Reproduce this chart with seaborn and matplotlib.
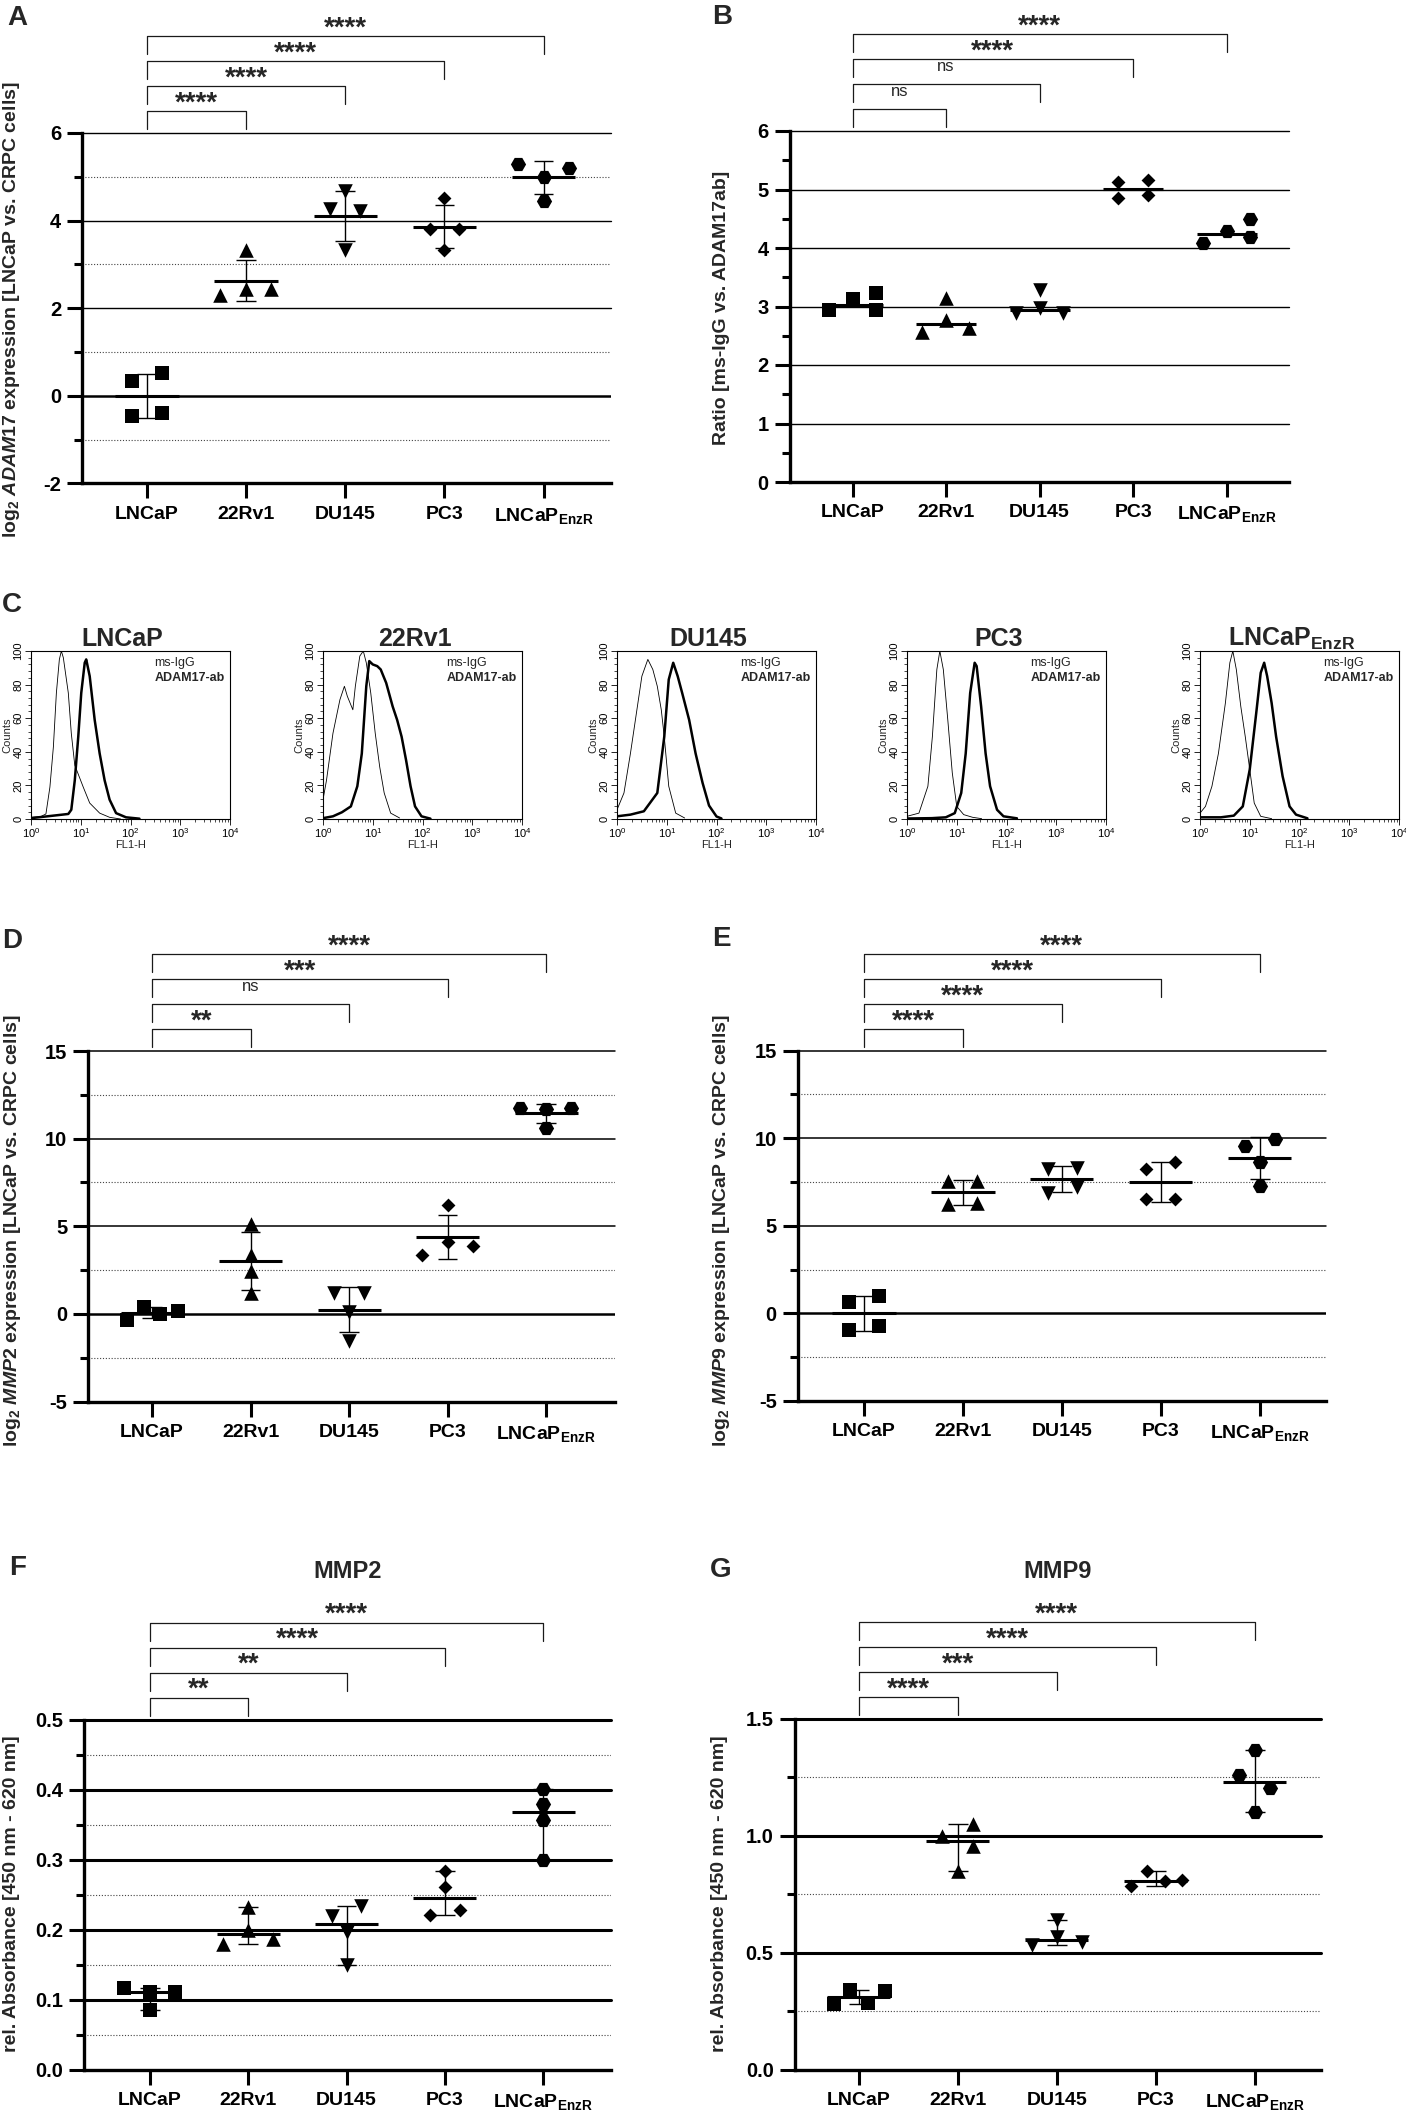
import numpy as np
import pandas as pd
import matplotlib
matplotlib.use("Agg")
import matplotlib.pyplot as plt
import matplotlib.transforms as mtransforms
from matplotlib import font_manager as fm
from matplotlib.ticker import MultipleLocator, LogLocator, NullFormatter
import seaborn as sns

sns.set_theme(style="ticks")
available = {f.name for f in fm.fontManager.ttflist}
MAIN = "Liberation Sans" if "Liberation Sans" in available else "DejaVu Sans"
NARROW = "Liberation Sans Narrow" if "Liberation Sans Narrow" in available else MAIN
plt.rcParams["font.family"] = [MAIN, "DejaVu Sans"]
plt.rcParams["mathtext.fontset"] = "custom"
plt.rcParams["mathtext.it"] = f"{MAIN}:italic:bold"
plt.rcParams["mathtext.rm"] = f"{MAIN}:bold"
plt.rcParams["mathtext.bf"] = f"{MAIN}:bold"
plt.rcParams["axes.edgecolor"] = "black"
plt.rcParams["xtick.color"] = "black"
plt.rcParams["ytick.color"] = "black"

# ---------------- data ----------------
groups = ["LNCaP", "22Rv1", "DU145", "PC3", "LNCaP_EnzR"]
tick_labels = ["LNCaP", "22Rv1", "DU145", "PC3", r"LNCaP$_{\mathdefault{EnzR}}$"]

# A: log2 ADAM17 expression
a_vals = [[0.33, 0.52, -0.47, -0.40],
          [3.32, 2.45, 2.45, 2.30],
          [4.67, 4.26, 4.21, 3.32],
          [4.52, 3.80, 3.80, 3.32],
          [5.29, 5.21, 5.00, 4.44]]
a_sig = ["****", "****", "****", "****"]

# B: ratio ms-IgG vs ADAM17ab
b_vals = [[2.94, 3.12, 3.23, 2.94],
          [3.14, 2.77, 2.64, 2.57],
          [3.28, 2.98, 2.89, 2.89],
          [5.13, 5.17, 4.86, 4.90],
          [4.09, 4.29, 4.49, 4.19]]
b_sig = ["ns", "ns", "****", "****"]

# D: log2 MMP2 expression
d_vals = [[-0.33, 0.40, 0.02, 0.15],
          [5.14, 3.34, 2.46, 1.17],
          [1.20, 1.20, 0.10, -1.55],
          [6.19, 4.12, 3.87, 3.38],
          [11.75, 11.68, 11.75, 10.63]]
d_sig = ["**", "ns", "***", "****"]

# E: log2 MMP9 expression
e_vals = [[0.67, 1.01, -0.96, -0.70],
          [7.54, 7.54, 6.23, 6.31],
          [8.27, 8.31, 6.89, 7.19],
          [8.27, 8.66, 6.52, 6.52],
          [9.58, 9.98, 8.66, 7.29]]
e_sig = ["****", "****", "****", "****"]

# F: MMP2 absorbance
f_vals = [[0.116, 0.111, 0.111, 0.085],
          [0.232, 0.200, 0.180, 0.187],
          [0.220, 0.234, 0.196, 0.150],
          [0.283, 0.261, 0.221, 0.228],
          [0.401, 0.379, 0.356, 0.300]]
f_sig = ["**", "**", "****", "****"]

# G: MMP9 absorbance
g_vals = [[0.281, 0.341, 0.286, 0.335],
          [0.998, 1.052, 0.957, 0.848],
          [0.640, 0.567, 0.534, 0.545],
          [0.784, 0.848, 0.806, 0.812],
          [1.368, 1.259, 1.205, 1.101]]
g_sig = ["****", "***", "****", "****"]

# C: flow cytometry histograms (log10 FL1-H, counts)
lncap_igg_logfl = [0.0, 0.2, 0.3, 0.38, 0.45, 0.51, 0.57, 0.61, 0.65, 0.75, 0.81, 0.88, 1.05, 1.18, 1.38, 1.58, 1.8]
lncap_igg_counts = [1, 1.5, 3, 19, 43, 75, 95, 100, 96, 75, 51, 32, 19, 9.5, 3.5, 1, 0]
lncap_adam_logfl = [0.0, 0.3, 0.6, 0.75, 0.81, 0.88, 0.95, 1.01, 1.08, 1.11, 1.18, 1.28, 1.38, 1.48, 1.58, 1.71, 1.91, 2.18]
lncap_adam_counts = [0.5, 1.5, 2.5, 3, 5.5, 23, 49, 75, 93, 95, 85, 59, 39, 23, 11.5, 3.5, 1, 0.2]

rv1_igg_logfl = [0.0, 0.07, 0.2, 0.34, 0.43, 0.49, 0.6, 0.65, 0.74, 0.81, 0.87, 0.96, 1.05, 1.14, 1.23, 1.36, 1.54]
rv1_igg_counts = [11.5, 23, 51, 71, 79, 73, 65, 79, 97, 100, 93, 75, 51, 31, 15.5, 3.5, 0.6]
rv1_adam_logfl = [0.0, 0.2, 0.38, 0.56, 0.69, 0.78, 0.87, 0.93, 1.0, 1.09, 1.16, 1.27, 1.4, 1.49, 1.58, 1.67, 1.76, 1.85, 1.98, 2.16]
rv1_adam_counts = [0.5, 1.6, 4, 7.5, 19.5, 39, 79, 94, 92, 91, 89, 81, 67, 59, 49, 35, 19.5, 7.5, 1.6, 0.2]

du_igg_logfl = [0.0, 0.14, 0.27, 0.41, 0.5, 0.62, 0.72, 0.81, 0.89, 0.95, 1.04, 1.18, 1.36]
du_igg_counts = [5.5, 15.5, 39, 67, 85, 95, 89, 79, 65, 49, 19.5, 3.5, 0.6]
du_adam_logfl = [0.0, 0.27, 0.54, 0.81, 0.95, 1.04, 1.13, 1.22, 1.31, 1.45, 1.58, 1.72, 1.85, 2.0, 2.1]
du_adam_counts = [1.6, 2.6, 4.6, 15.5, 49, 83, 93, 85, 75, 59, 39, 21.5, 8, 1.5, 0.3]

pc3_igg_logfl = [0.0, 0.24, 0.42, 0.51, 0.6, 0.66, 0.73, 0.82, 0.91, 1.0, 1.14, 1.32, 1.5]
pc3_igg_counts = [1.6, 3.5, 19.5, 49, 89, 100, 89, 59, 27.5, 7.5, 2.6, 1, 0.2]
pc3_adam_logfl = [0.0, 0.5, 0.78, 0.96, 1.09, 1.18, 1.27, 1.36, 1.4, 1.49, 1.58, 1.67, 1.81, 1.94, 2.21]
pc3_adam_counts = [0.3, 0.5, 1, 3.5, 15.5, 39, 75, 93, 91, 67, 39, 19.5, 5.5, 1.6, 0.4]

enz_igg_logfl = [0.0, 0.11, 0.24, 0.37, 0.51, 0.6, 0.66, 0.73, 0.82, 0.91, 1.0, 1.09, 1.22, 1.44]
enz_igg_counts = [3.5, 7.5, 19.5, 39, 69, 93, 100, 89, 67, 49, 29.5, 9.5, 1.6, 0.2]
enz_adam_logfl = [0.0, 0.42, 0.68, 0.86, 1.0, 1.13, 1.22, 1.29, 1.35, 1.44, 1.53, 1.66, 1.8, 1.93, 2.16]
enz_adam_counts = [1, 1, 2, 7.5, 29.5, 63, 87, 93, 85, 69, 49, 25.5, 7.5, 2.6, 0.4]

hist_titles = ["LNCaP", "22Rv1", "DU145", "PC3", r"LNCaP$_{\mathdefault{EnzR}}$"]

# ---------------- layout (pixels) ----------------
W, H = 1406, 2114
fig = plt.figure(figsize=(W / 100, H / 100), dpi=100)
fig.patch.set_facecolor("white")


def add_axes_px(left, top, right, bottom):
    return fig.add_axes([left / W, 1 - bottom / H, (right - left) / W, (bottom - top) / H])


markers = ["s", "^", "v", "D", "H"]
msizes = [100, 110, 110, 50, 120]

# horizontal scatter arrangement of the replicate points (layout only)
a_offs = [[-0.15, 0.15, -0.15, 0.15], [0, 0, 0.25, -0.26], [0, -0.15, 0.15, 0], [0, -0.15, 0.15, 0], [-0.26, 0.26, 0, 0]]
b_offs = [[-0.25, 0, 0.255, 0.255], [0, 0, 0.25, -0.255], [0, 0, -0.255, 0.255], [-0.16, 0.16, -0.16, 0.16], [-0.25, 0, 0.255, 0.255]]
d_offs = [[-0.25, -0.08, 0.086, 0.26], [0, 0, 0, 0], [-0.15, 0.15, 0, 0], [0, 0, 0.255, -0.255], [-0.26, 0, 0.255, 0]]
e_offs = [[-0.146, 0.15, -0.146, 0.15], [-0.146, 0.14, -0.146, 0.14], [-0.137, 0.15, -0.137, 0.15], [-0.146, 0.146, -0.146, 0.146], [-0.146, 0.15, 0, 0]]
f_offs = [[-0.26, 0, 0.257, 0], [0, 0, -0.257, 0.252], [-0.15, 0.144, 0, 0], [0, 0, -0.15, 0.15], [0, 0, 0, 0]]
g_offs = [[-0.25, -0.087, 0.09, 0.264], [-0.155, 0.15, 0.15, 0], [0, 0, -0.246, 0.255], [-0.25, -0.093, 0.09, 0.264], [0, -0.16, 0.15, 0]]


def scatter_panel(box, xlim, values, offs, sig, ylim, majors, major_labels, minor_step,
                  solid, solid_lw, dotted, zero_lw, center, err):
    ax = add_axes_px(*box)
    rows = []
    for gi, (vals, oo) in enumerate(zip(values, offs)):
        for v, o in zip(vals, oo):
            rows.append({"group": groups[gi], "x": gi + o, "y": v})
    df = pd.DataFrame(rows)
    for y in solid:
        ax.axhline(y, color="black", lw=solid_lw, zorder=1, clip_on=False)
    for y in dotted:
        ax.axhline(y, color="#444444", lw=0.8, ls=(0, (1, 1.6)), zorder=1)
    if zero_lw:
        ax.axhline(0, color="black", lw=zero_lw, zorder=1)
    for gi, g in enumerate(groups):
        sub = df[df["group"] == g]
        sns.scatterplot(data=sub, x="x", y="y", marker=markers[gi], s=msizes[gi], color="black",
                        linewidth=0, ax=ax, zorder=3, legend=False)
        vals = np.array(values[gi])
        c = vals.mean() if center == "mean" else np.median(vals)
        ax.hlines(c, gi - 0.32, gi + 0.32, color="black", lw=2.2, zorder=4)
        if err is not None:
            if err == "sd":
                sd = vals.std(ddof=1)
                lo, hi = c - sd, c + sd
            else:
                lo, hi = vals.min(), vals.max()
            ax.vlines(gi, lo, hi, color="black", lw=1.0, zorder=4)
            ax.hlines([lo, hi], gi - 0.1, gi + 0.1, color="black", lw=1.0, zorder=4)
    ax.set_xlim(*xlim)
    ax.set_ylim(*ylim)
    ax.set_xticks(range(5), labels=tick_labels, fontsize=14, fontweight="bold")
    ax.set_yticks(majors, labels=major_labels, fontsize=14.5, fontweight="bold")
    ax.yaxis.set_minor_locator(MultipleLocator(minor_step))
    ax.xaxis.set_minor_locator(plt.NullLocator())
    ax.tick_params(axis="x", which="major", length=11, width=2.2, direction="out", pad=5)
    ax.tick_params(axis="y", which="major", length=11, width=2.2, direction="out", pad=4)
    ax.tick_params(axis="y", which="minor", length=6, width=2.2, direction="out")
    for s in ["top", "right"]:
        ax.spines[s].set_visible(False)
    for s in ["left", "bottom"]:
        ax.spines[s].set_linewidth(2.4)
        ax.spines[s].set_zorder(5)
    ax.set_xlabel("")
    ax.set_ylabel("")
    # significance brackets
    h_px = box[3] - box[1]
    trans = mtransforms.blended_transform_factory(ax.transData, ax.transAxes)
    for i, lab in enumerate(sig):
        k = i + 1
        ybar = 1 + (22 + 25 * i) / h_px
        yleg = ybar - 18 / h_px
        ax.plot([0, 0, k, k], [yleg, ybar, ybar, yleg], transform=trans, clip_on=False,
                color="#1a1a1a", lw=0.9)
        if lab == "ns":
            ax.text(k / 2, ybar + 13 / h_px, "ns", transform=trans, ha="center", va="baseline",
                    fontsize=12, family=[NARROW, "DejaVu Sans"])
        else:
            ax.text(k / 2, ybar + 0.5 / h_px, lab, transform=trans, ha="center", va="baseline",
                    fontsize=20, fontweight="bold")
    return ax


# A
scatter_panel((82, 133, 611, 483.5), (-0.655, 4.68), a_vals, a_offs, a_sig, (-2, 6),
              [-2, 0, 2, 4, 6], ["-2", "0", "2", "4", "6"], 1,
              [2, 4, 6], 1.0, [-1, 1, 3, 5], 1.8, "mean", "sd")
# B
scatter_panel((789.5, 131, 1289, 482), (-0.675, 4.667), b_vals, b_offs, b_sig, (0, 6),
              [0, 1, 2, 3, 4, 5, 6], ["0", "1", "2", "3", "4", "5", "6"], 0.5,
              [1, 2, 3, 4, 5, 6], 1.0, [], None, "median", None)
# D
scatter_panel((88, 1051, 615, 1401.5), (-0.65, 4.70), d_vals, d_offs, d_sig, (-5, 15),
              [-5, 0, 5, 10, 15], ["-5", "0", "5", "10", "15"], 2.5,
              [5, 10, 15], 1.1, [-2.5, 2.5, 7.5, 12.5], 1.8, "mean", "sd")
# E
scatter_panel((797.6, 1050.7, 1326, 1401), (-0.67, 4.67), e_vals, e_offs, e_sig, (-5, 15),
              [-5, 0, 5, 10, 15], ["-5", "0", "5", "10", "15"], 2.5,
              [5, 10, 15], 1.1, [-2.5, 2.5, 7.5, 12.5], 1.8, "mean", "sd")
# F
scatter_panel((84, 1719.5, 611, 2069.5), (-0.67, 4.69), f_vals, f_offs, f_sig, (0, 0.5),
              [0, 0.1, 0.2, 0.3, 0.4, 0.5], ["0.0", "0.1", "0.2", "0.3", "0.4", "0.5"], 0.05,
              [0.1, 0.2, 0.3, 0.4, 0.5], 2.2, [0.05, 0.15, 0.25, 0.35, 0.45], None, "median", "range")
# G
scatter_panel((794.5, 1719, 1321, 2069.6), (-0.65, 4.67), g_vals, g_offs, g_sig, (0, 1.5),
              [0, 0.5, 1.0, 1.5], ["0.0", "0.5", "1.0", "1.5"], 0.25,
              [0.5, 1.0, 1.5], 2.2, [0.25, 0.75, 1.25], None, "median", "range")

# y labels
ylab_kw = dict(rotation=90, ha="center", va="center", fontsize=14, fontweight="bold")
fig.text(12 / W, 1 - 310 / H, r"log$_{\mathdefault{2}}$ $\mathit{ADAM17}$ expression [LNCaP vs. CRPC cells]", **ylab_kw)
fig.text(721 / W, 1 - 308 / H, "Ratio [ms-IgG vs. ADAM17ab]", **ylab_kw)
fig.text(13 / W, 1 - 1231 / H, r"log$_{\mathdefault{2}}$ $\mathit{MMP2}$ expression [LNCaP vs. CRPC cells]", **ylab_kw)
fig.text(722 / W, 1 - 1231 / H, r"log$_{\mathdefault{2}}$ $\mathit{MMP9}$ expression [LNCaP vs. CRPC cells]", **ylab_kw)
fig.text(12 / W, 1 - 1894 / H, "rel. Absorbance [450 nm - 620 nm]", **ylab_kw)
fig.text(720 / W, 1 - 1894 / H, "rel. Absorbance [450 nm - 620 nm]", **ylab_kw)

# titles F, G
fig.text(347.5 / W, 1 - 1578 / H, "MMP2", ha="center", va="baseline", fontsize=17, fontweight="bold")
fig.text(1058 / W, 1 - 1578 / H, "MMP9", ha="center", va="baseline", fontsize=17, fontweight="bold")

# panel letters
for letter, (x, y) in {"A": (7, 25), "B": (712, 24), "C": (2, 612), "D": (2, 948),
                       "E": (712, 946), "F": (9, 1575), "G": (710, 1577)}.items():
    fig.text(x / W, 1 - y / H, letter, ha="left", va="baseline", fontsize=20, fontweight="bold")

# C: histograms
hist_data = [
    (lncap_igg_logfl, lncap_igg_counts, lncap_adam_logfl, lncap_adam_counts),
    (rv1_igg_logfl, rv1_igg_counts, rv1_adam_logfl, rv1_adam_counts),
    (du_igg_logfl, du_igg_counts, du_adam_logfl, du_adam_counts),
    (pc3_igg_logfl, pc3_igg_counts, pc3_adam_logfl, pc3_adam_counts),
    (enz_igg_logfl, enz_igg_counts, enz_adam_logfl, enz_adam_counts),
]
hist_lefts = [31, 323, 617, 907, 1200]
nfam = [NARROW, "DejaVu Sans"]
for left, title, (il, ic, al, ac) in zip(hist_lefts, hist_titles, hist_data):
    ax = add_axes_px(left, 651, left + 199, 819)
    ax.set_xscale("log")
    d1 = pd.DataFrame({"fl": 10 ** np.array(il), "counts": ic})
    d2 = pd.DataFrame({"fl": 10 ** np.array(al), "counts": ac})
    sns.lineplot(data=d1, x="fl", y="counts", ax=ax, color="black", lw=0.6, estimator=None, sort=False)
    sns.lineplot(data=d2, x="fl", y="counts", ax=ax, color="black", lw=1.8, estimator=None, sort=False)
    ax.set_xlim(1, 1e4)
    ax.set_ylim(0, 100)
    ax.set_yticks([0, 20, 40, 60, 80, 100])
    ax.yaxis.set_minor_locator(MultipleLocator(4))
    ax.xaxis.set_major_locator(LogLocator(base=10, numticks=10))
    ax.xaxis.set_minor_locator(LogLocator(base=10, subs=np.arange(2, 10), numticks=20))
    ax.xaxis.set_minor_formatter(NullFormatter())
    ax.tick_params(axis="both", which="major", length=4, width=0.6, labelsize=8, pad=1.5)
    ax.tick_params(axis="both", which="minor", length=2, width=0.5)
    ax.tick_params(axis="y", labelrotation=90)
    for lbl in ax.get_yticklabels():
        lbl.set_family(nfam)
        lbl.set_va("center")
    for s in ax.spines.values():
        s.set_linewidth(0.8)
        s.set_visible(True)
    ax.set_xlabel("FL1-H", fontsize=8, labelpad=0, family=nfam)
    ax.set_ylabel("Counts", fontsize=8, labelpad=1, family=nfam)
    ax.text(0.62, 0.926, "ms-IgG", transform=ax.transAxes, ha="left", va="center", fontsize=9, family=nfam)
    ax.text(0.62, 0.839, "ADAM17-ab", transform=ax.transAxes, ha="left", va="center", fontsize=9,
            fontweight="bold", family=nfam)
    fig.text((left + 99.5 - 8) / W, 1 - 646 / H, title, ha="center", va="baseline", fontsize=18,
             fontweight="bold", family=nfam)

fig.savefig("out.png", dpi=100, facecolor="white")
